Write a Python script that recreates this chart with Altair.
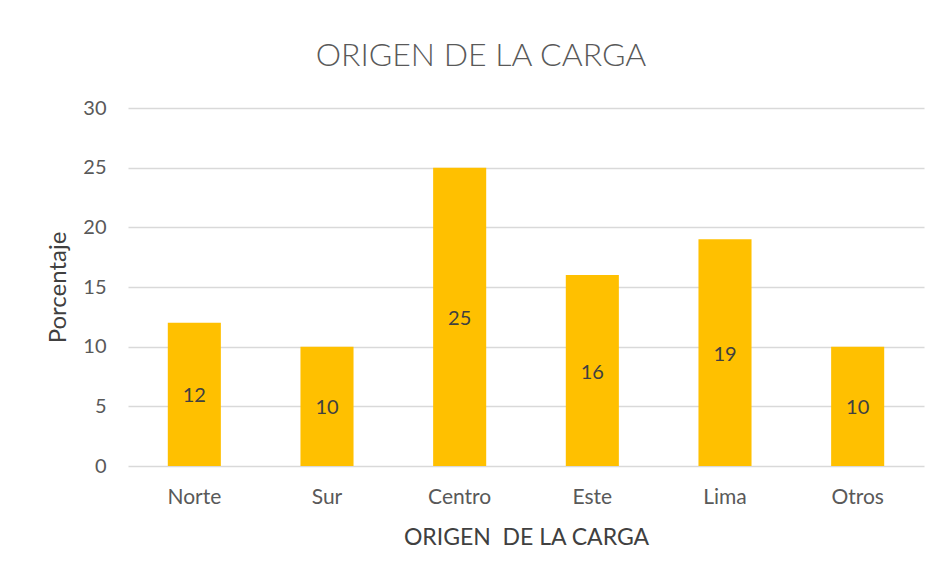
import altair as alt
import pandas as pd

categories = ["Norte", "Sur", "Centro", "Este", "Lima", "Otros"]
values = [12, 10, 25, 16, 19, 10]
y_ticks = [0, 5, 10, 15, 20, 25, 30]

df = pd.DataFrame({"origen": categories, "porcentaje": values})

FONT = "Lato"

base = alt.Chart(df).encode(
    x=alt.X(
        "origen:N",
        sort=categories,
        scale=alt.Scale(paddingInner=0.6, paddingOuter=0.3),
        axis=alt.Axis(
            title="ORIGEN\u00a0 DE LA CARGA",
            labelAngle=0,
            domain=False,
            ticks=False,
            labelPadding=20,
            labelFontSize=21,
            labelColor="#595959",
            labelFont=FONT,
            titleFont=FONT,
            titleFontSize=23,
            titleFontWeight="normal",
            titleColor="#404040",
            titlePadding=19,
        ),
    )
)

bars = base.mark_bar(color="#FFC000").encode(
    y=alt.Y(
        "porcentaje:Q",
        scale=alt.Scale(domain=[0, 30], nice=False),
        axis=alt.Axis(
            title="Porcentaje",
            values=y_ticks,
            domain=False,
            ticks=False,
            gridColor="#D9D9D9",
            gridWidth=1.3,
            labelPadding=22,
            labelFontSize=20,
            labelColor="#595959",
            labelFont=FONT,
            titleFont=FONT,
            titleFontSize=24,
            titleFontWeight="normal",
            titleColor="#404040",
            titlePadding=12,
        ),
    )
)

labels = base.transform_calculate(mid="datum.porcentaje / 2").mark_text(
    font=FONT, fontSize=20, color="#404040", baseline="middle", align="center", dy=2
).encode(
    y=alt.Y("mid:Q"),
    text=alt.Text("porcentaje:Q"),
)

chart = (
    alt.layer(bars, labels)
    .properties(
        width=796,
        height=358,
        title=alt.TitleParams(
            "ORIGEN DE LA CARGA",
            font=FONT,
            fontSize=32,
            fontWeight=300,
            color="#595959",
            anchor="middle",
            frame="group",
            baseline="alphabetic",
            offset=0,
            dx=-45,
        ),
        autosize=alt.AutoSizeParams(type="none"),
        padding={"left": 120, "top": 100, "right": 12, "bottom": 100},
        background="white",
    )
    .configure_view(stroke=None)
)

chart.save("out.html", embed_options={"renderer": "svg", "actions": False})
